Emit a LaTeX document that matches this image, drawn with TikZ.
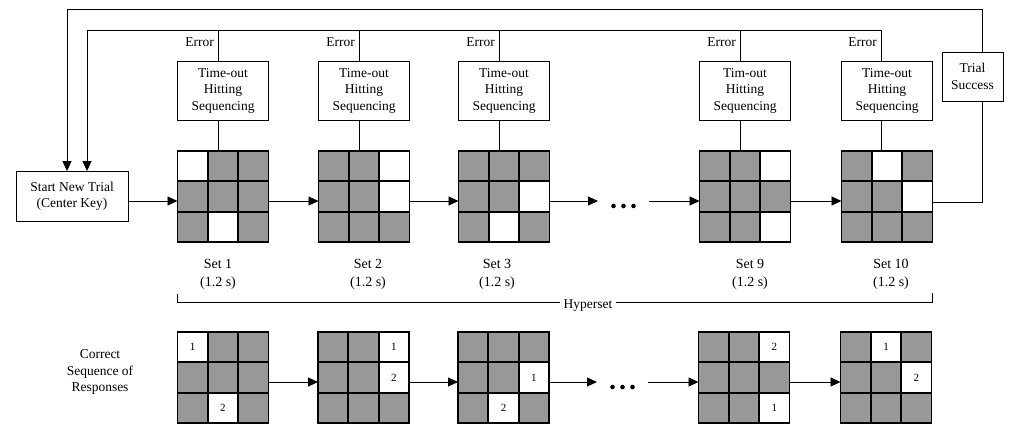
\documentclass[tikz,border=0pt]{standalone}
\usepackage{fontspec}
\setmainfont{Liberation Serif}
\usetikzlibrary{arrows.meta,calc}

\definecolor{keygray}{RGB}{152,152,152}
\def\cw{30.33}

\tikzset{
  conn/.style={line width=0.9pt},
  arr/.style={conn,-{Triangle[length=10pt,width=9pt]}},
  txt/.style={font=\fontsize{13.5}{16.5}\selectfont,align=center,inner sep=0pt},
  boxnode/.style={draw,line width=0.9pt,txt},
  errbox/.style={boxnode,minimum width=91pt,minimum height=59pt},
  gridbox/.style={rectangle,inner sep=0pt,outer sep=0pt,minimum width=91pt,minimum height=91pt,fill=keygray},
  gridline/.style={line width=1.8pt},
  numtxt/.style={font=\fontsize{11}{12}\selectfont,inner sep=0pt},
  setlabel/.style={font=\fontsize{14}{18}\selectfont,align=center,inner sep=0pt},
  dotsbox/.style={inner sep=0pt,outer sep=0pt,minimum width=51pt,minimum height=0pt},
  dot/.style={fill=black},
}

% 3x3 keypad: name, centre, list of row/column/label for the lit keys
\newcommand{\keypad}[3]{%
  \node[gridbox] (#1) at (#2) {};
  \foreach \r/\c/\t in {#3} {
    \fill[white] ($(#1.north west)+({(\c-1)*\cw},{(\r-1)*\cw})$) rectangle ++(\cw,\cw);
    \node[numtxt] at ($(#1.north west)+({(\c-0.5)*\cw},{(\r-0.5)*\cw})$) {\t};
  }
  \draw[gridline] (#1.north west) rectangle (#1.south east);
  \foreach \i in {1,2} {
    \draw[gridline] ($(#1.north west)+({\i*\cw},0)$) -- ($(#1.south west)+({\i*\cw},0)$);
    \draw[gridline] ($(#1.north west)+(0,{\i*\cw})$) -- ($(#1.north east)+(0,{\i*\cw})$);
  }
}

\newcommand{\threedots}[1]{%
  \foreach \dx in {-10,0,10} {
    \fill[dot] ($(#1.center)+(\dx,5)$) circle (2.3pt);
  }
}

\begin{document}
\begin{tikzpicture}[x=1pt,y=-1pt]
\useasboundingbox (0,0) rectangle (1016,424);

% start box
\node[boxnode,minimum width=112pt,minimum height=50pt] (start) at (72,196.5)
  {Start New Trial\\(Center Key)};

% error condition boxes
\node[errbox] (b1)  at (223,90.5) {Time-out\\Hitting\\Sequencing};
\node[errbox] (b2)  at (364,90.5) {Time-out\\Hitting\\Sequencing};
\node[errbox] (b3)  at (504,90.5) {Time-out\\Hitting\\Sequencing};
\node[errbox] (b9)  at (745,90.5) {Tim-out\\Hitting\\Sequencing};
\node[errbox] (b10) at (887,90.5) {Time-out\\Hitting\\Sequencing};

% success box
\node[boxnode,minimum width=61pt,minimum height=49pt] (ts) at (972.5,76.5) {Trial\\Success};

% stimulus keypads
\keypad{g1}{223,196.5}{1/1/{},3/2/{}}
\keypad{g2}{364,196.5}{1/3/{},2/3/{}}
\keypad{g3}{504,196.5}{2/3/{},3/2/{}}
\keypad{g9}{745,196.5}{1/3/{},3/3/{}}
\keypad{g10}{887,196.5}{1/2/{},2/3/{}}

% correct response keypads
\keypad{h1}{223,377.5}{1/1/1,3/2/2}
\keypad{h2}{363.5,377.5}{1/3/1,2/3/2}
\keypad{h3}{503.5,377.5}{2/3/1,3/2/2}
\keypad{h9}{744,377.5}{1/3/2,3/3/1}
\keypad{h10}{886,377.5}{1/2/1,2/3/2}

% ellipses
\node[dotsbox] (d1) at (623.5,201) {};
\node[dotsbox] (d2) at (622.5,382) {};
\threedots{d1}
\threedots{d2}

% forward flow, top row
\draw[arr] ([yshift=-4.5pt]start.east) -- ([yshift=-4.5pt]g1.west);
\draw[arr] ([yshift=-4.5pt]g1.east) -- ([yshift=-4.5pt]g2.west);
\draw[arr] ([yshift=-4.5pt]g2.east) -- ([yshift=-4.5pt]g3.west);
\draw[arr] ([yshift=-4.5pt]g3.east) -- (d1.west);
\draw[arr] (d1.east) -- ([yshift=-4.5pt]g9.west);
\draw[arr] ([yshift=-4.5pt]g9.east) -- ([yshift=-4.5pt]g10.west);

% forward flow, bottom row
\draw[arr] ([yshift=-4.5pt]h1.east) -- ([yshift=-4.5pt]h2.west);
\draw[arr] ([yshift=-4.5pt]h2.east) -- ([yshift=-4.5pt]h3.west);
\draw[arr] ([yshift=-4.5pt]h3.east) -- (d2.west);
\draw[arr] (d2.east) -- ([yshift=-4.5pt]h9.west);
\draw[arr] ([yshift=-4.5pt]h9.east) -- ([yshift=-4.5pt]h10.west);

% keypads to their error boxes
\foreach \n/\s in {1/5,2/5,3/5,9/5,10/6} {
  \draw[conn] ([xshift=-\s pt]g\n.north) -- ([xshift=-\s pt]b\n.south);
}

% error feedback bus
\foreach \n in {1,2,3,9} {
  \draw[conn] ([xshift=-5pt]b\n.north) -- ++(0,-30);
  \node[txt,anchor=east] at ($([xshift=-5pt]b\n.north)+(-4,-18)$) {Error};
}
\node[txt,anchor=east] at ($([xshift=-6pt]b10.north)+(-4,-18)$) {Error};
\draw[arr] ([xshift=-6pt]b10.north) -- ++(0,-30) -| ([xshift=15pt]start.north);

% success loop
\draw[conn] ([yshift=-5.5pt]g10.east) -| ([xshift=9.5pt]ts.south);
\draw[arr] ([xshift=9.5pt]ts.north) -- ++(0,-42) -| ([xshift=-5pt]start.north);

% set labels
\node[setlabel] at (218,274) {Set 1\\(1.2 s)};
\node[setlabel] at (368,274) {Set 2\\(1.2 s)};
\node[setlabel] at (497,274) {Set 3\\(1.2 s)};
\node[setlabel] at (750,274) {Set 9\\(1.2 s)};
\node[setlabel] at (891,274) {Set 10\\(1.2 s)};

% hyperset bracket
\coordinate (hl) at (177,294);
\coordinate (hr) at (932,293);
\draw[conn] (hl) -- (hl |- 0,302) -- (hr |- 0,302) -- (hr);
\node[txt,fill=white,inner xsep=4pt,inner ysep=1pt] (hyp) at (588,306) {Hyperset};

% row caption
\node[txt] (cap) at (100,372) {Correct\\Sequence of\\Responses};
\end{tikzpicture}
\end{document}
